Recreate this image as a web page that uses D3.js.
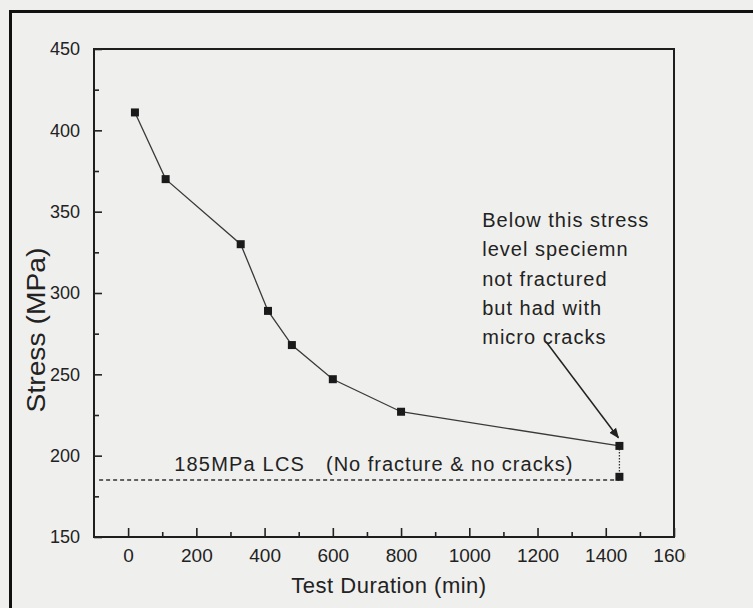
<!DOCTYPE html>
<html>
<head>
<meta charset="utf-8">
<script src="https://cdn.jsdelivr.net/npm/d3@7"></script>
<style>
  html, body { margin: 0; padding: 0; background: #efefed; }
  svg { display: block; font-family: "Liberation Sans", Arial, sans-serif; }
  .axis text { fill: #222; }
  .axis line { stroke: #222; stroke-width: 1.6; }
</style>
</head>
<body>
<svg id="chart" width="753" height="608"></svg>
<script>
// test duration (min) vs stress (MPa)
const duration = [20, 110, 330, 410, 480, 600, 800, 1440];
const stress = [411, 370, 330, 289, 268, 247, 227, 206];
// the no-fracture specimen, drawn under the last point
const lcsPoint = [1440, 187];
const lcs = 185;

const xTicks = [0, 200, 400, 600, 800, 1000, 1200, 1400, 1600];
const xMinor = [100, 300, 500, 700, 900, 1100, 1300, 1500];
const yTicks = [150, 200, 250, 300, 350, 400, 450];
const yMinor = [175, 225, 275, 325, 375, 425];

const noteLines = ['Below this stress', 'level speciemn', 'not fractured', 'but had with', 'micro cracks'];

const svg = d3.select('#chart');
const defs = svg.append('defs');

// scan border, top and left only
svg.append('path')
    .attr('d', 'M10.5,620 V11.5 H760')
    .attr('fill', 'none')
    .attr('stroke', '#111')
    .attr('stroke-width', 3);

const x = d3.scaleLinear().domain([-100, 1600]).range([94, 674]);
const y = d3.scaleLinear().domain([150, 450]).range([537, 49]);

// frame
svg.append('rect')
    .attr('x', x(-100)).attr('y', y(450))
    .attr('width', x(1600) - x(-100)).attr('height', y(150) - y(450))
    .attr('fill', 'none')
    .attr('stroke', '#1e1e1e')
    .attr('stroke-width', 2);

// the scan cuts off the last x label
defs.append('clipPath').attr('id', 'cut')
  .append('rect').attr('x', 0).attr('y', -600).attr('width', 686).attr('height', 1200);

// axes, ticks pointing inwards
const gx = svg.append('g').attr('class', 'axis')
    .attr('transform', `translate(0,${y(150)})`)
    .attr('clip-path', 'url(#cut)')
    .call(d3.axisBottom(x).tickValues(xTicks).tickSize(-9).tickPadding(12).tickFormat(d3.format('d')));
gx.selectAll('text').attr('font-size', 19);
gx.select('.domain').remove();

const gxm = svg.append('g').attr('class', 'axis')
    .attr('transform', `translate(0,${y(150)})`)
    .call(d3.axisBottom(x).tickValues(xMinor).tickSize(-5).tickFormat(''));
gxm.select('.domain').remove();

const gy = svg.append('g').attr('class', 'axis')
    .attr('transform', `translate(${x(-100)},0)`)
    .call(d3.axisLeft(y).tickValues(yTicks).tickSize(-8).tickPadding(14));
gy.selectAll('text').attr('font-size', 18);
gy.select('.domain').remove();

const gym = svg.append('g').attr('class', 'axis')
    .attr('transform', `translate(${x(-100)},0)`)
    .call(d3.axisLeft(y).tickValues(yMinor).tickSize(-5).tickFormat(''));
gym.select('.domain').remove();

// axis titles
svg.append('text')
    .attr('x', 389).attr('y', 593)
    .attr('text-anchor', 'middle')
    .attr('font-size', 22)
    .attr('letter-spacing', 0.5)
    .attr('fill', '#222')
    .text('Test Duration (min)');

svg.append('text')
    .attr('transform', 'translate(45,330) rotate(-90)')
    .attr('text-anchor', 'middle')
    .attr('font-size', 25)
    .attr('textLength', 165)
    .attr('lengthAdjust', 'spacingAndGlyphs')
    .attr('fill', '#222')
    .text('Stress (MPa)');

// LCS dashed line
svg.append('line')
    .attr('x1', x(-85)).attr('x2', x(1440))
    .attr('y1', y(lcs)).attr('y2', y(lcs))
    .attr('stroke', '#333')
    .attr('stroke-width', 1.4)
    .attr('stroke-dasharray', '4,3');

svg.append('text')
    .attr('x', x(135)).attr('y', 471)
    .attr('font-size', 20)
    .attr('letter-spacing', 1.2)
    .attr('fill', '#222')
    .text('185MPa LCS');
svg.append('text')
    .attr('x', x(580)).attr('y', 471)
    .attr('font-size', 20)
    .attr('letter-spacing', 1)
    .attr('fill', '#222')
    .text('(No fracture & no cracks)');

// data line
const pts = duration.map((d, i) => [d, stress[i]]);
svg.append('path')
    .datum(pts)
    .attr('fill', 'none')
    .attr('stroke', '#3a3a3a')
    .attr('stroke-width', 1.3)
    .attr('d', d3.line().x(d => x(d[0])).y(d => y(d[1])));

// dotted drop to the LCS specimen
svg.append('line')
    .attr('x1', x(1440)).attr('x2', x(lcsPoint[0]))
    .attr('y1', y(206)).attr('y2', y(lcsPoint[1]))
    .attr('stroke', '#333')
    .attr('stroke-width', 1.3)
    .attr('stroke-dasharray', '1.5,1.5');

svg.selectAll('rect.pt')
    .data(pts.concat([lcsPoint]))
    .join('rect')
    .attr('class', 'pt')
    .attr('x', d => x(d[0]) - 4)
    .attr('y', d => y(d[1]) - 4)
    .attr('width', 8).attr('height', 8)
    .attr('fill', '#1a1a1a');

// annotation
svg.append('text')
    .attr('font-size', 20)
    .attr('letter-spacing', 1)
    .attr('fill', '#222')
    .selectAll('tspan')
    .data(noteLines)
    .join('tspan')
    .attr('x', x(1038))
    .attr('y', (d, i) => 227 + i * 29.3)
    .text(d => d);

defs.append('marker')
    .attr('id', 'head')
    .attr('viewBox', '0 0 10 10')
    .attr('refX', 9).attr('refY', 5)
    .attr('markerWidth', 7).attr('markerHeight', 7)
    .attr('orient', 'auto')
  .append('path')
    .attr('d', 'M0,1 L10,5 L0,9 Z')
    .attr('fill', '#222');

svg.append('line')
    .attr('x1', x(1225)).attr('y1', y(270))
    .attr('x2', x(1437)).attr('y2', y(211))
    .attr('stroke', '#222')
    .attr('stroke-width', 1.5)
    .attr('marker-end', 'url(#head)');
</script>
</body>
</html>
